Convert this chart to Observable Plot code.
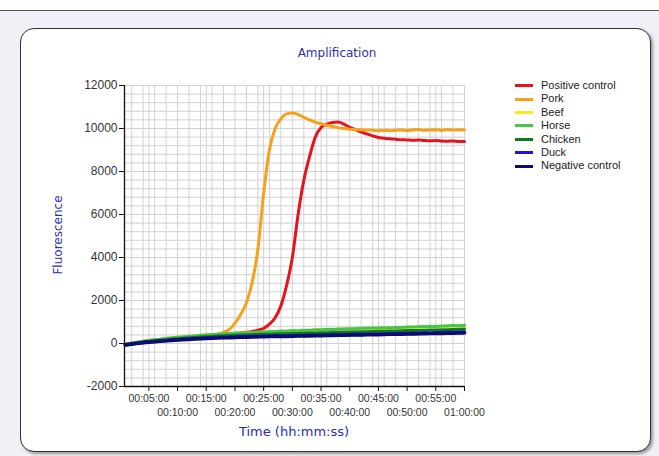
<!DOCTYPE html>
<html>
<head>
<meta charset="utf-8">
<script src="https://cdn.jsdelivr.net/npm/d3@7"></script>
<script src="https://cdn.jsdelivr.net/npm/@observablehq/plot@0.6"></script>
<style>
  html, body { margin: 0; padding: 0; }
  body { width: 659px; height: 456px; position: relative; overflow: hidden; background: #eff1f6; }
  #topband { position: absolute; left: 0; top: 0; width: 659px; height: 10px; background: #fff; border-bottom: 1px solid #555; }
  #card { position: absolute; left: 20px; top: 28px; width: 629px; height: 422px; background: #fff;
          border: 1.5px solid #333; border-radius: 14px; box-shadow: 2px 2px 3px #9a9a9a; }
  #chart { position: absolute; left: 0; top: 0; }
  .lbl { position: absolute; font-family: "DejaVu Sans", sans-serif; color: #2f2fa8; white-space: nowrap; }
  #title { left: 0; width: 674px; top: 46px; text-align: center; font-size: 12px; }
  #ylab { left: 58px; top: 235px; font-size: 12px; transform: translate(-50%, -50%) rotate(-90deg); }
  #xlab { left: 294px; top: 431px; font-size: 13px; transform: translate(-50%, -50%); color: #2a2ab8; }
  #legend { position: absolute; left: 515px; top: 79px; font-family: "Liberation Sans", Arial, sans-serif; font-size: 11px; color: #222; }
  #legend .row { height: 13.4px; line-height: 13.4px; display: flex; align-items: center; }
  #legend .sw { width: 18px; height: 3px; margin-right: 8px; }
</style>
</head>
<body>
<div id="topband"></div>
<div id="card"></div>
<div id="chart"></div>
<div class="lbl" id="title">Amplification</div>
<div class="lbl" id="ylab">Fluorescence</div>
<div class="lbl" id="xlab">Time (hh:mm:ss)</div>
<div id="legend"></div>
<script>
// time in minutes
const times = [0.9, 2, 3, 4, 5, 6, 7, 8, 9, 10,
  11, 12, 13, 14, 15, 16, 17, 18, 19, 20,
  21, 22, 23, 24, 25, 26, 27, 28, 29, 30,
  31, 32, 33, 34, 35, 36, 37, 38, 39, 40,
  41, 42, 43, 44, 45, 46, 47, 48, 49, 50,
  51, 52, 53, 54, 55, 56, 57, 58, 59, 60];

const seriesNames = ["Positive control", "Pork", "Beef", "Horse", "Chicken", "Duck", "Negative control"];
const seriesColors = ["#e5141c", "#f5a21a", "#f2ee1e", "#46c646", "#147814", "#1a1ad0", "#0c0c70"];

const positive = [-40, 10, 50, 90, 125, 160, 190, 220, 250, 275,
  300, 320, 345, 365, 385, 400, 420, 435, 450, 470,
  490, 520, 560, 620, 700, 900, 1200, 1750, 2700, 4000,
  6000, 7600, 8700, 9600, 10050, 10200, 10280, 10300, 10200, 10050,
  9950, 9830, 9750, 9660, 9580, 9550, 9520, 9500, 9480, 9470,
  9450, 9460, 9440, 9430, 9440, 9420, 9410, 9420, 9400, 9390];

const pork = [-30, 20, 60, 100, 140, 170, 200, 235, 260, 290,
  310, 335, 355, 380, 395, 415, 440, 520, 650, 950,
  1350, 1900, 2850, 4400, 7000, 9000, 10000, 10450, 10680, 10720,
  10650, 10520, 10400, 10300, 10220, 10150, 10090, 10040, 10000, 9970,
  9950, 9940, 9930, 9920, 9900, 9910, 9900, 9920, 9930, 9910,
  9930, 9950, 9920, 9930, 9940, 9920, 9950, 9930, 9940, 9930];

const beef = [-40, 10, 50, 90, 130, 160, 190, 225, 250, 280,
  300, 325, 345, 370, 385, 400, 420, 440, 450, 465,
  480, 490, 505, 515, 525, 540, 545, 560, 565, 580,
  585, 600, 605, 615, 625, 635, 640, 655, 660, 670,
  675, 685, 695, 700, 710, 715, 725, 730, 740, 745,
  755, 760, 770, 780, 785, 795, 800, 810, 820, 830];

const horse = [-30, 25, 55, 105, 135, 175, 195, 240, 255, 295,
  305, 340, 350, 385, 390, 420, 425, 455, 460, 485,
  490, 505, 515, 535, 535, 560, 555, 580, 575, 600,
  595, 620, 615, 635, 635, 655, 650, 675, 670, 690,
  685, 705, 705, 720, 720, 735, 735, 750, 750, 765,
  765, 780, 785, 800, 790, 815, 810, 835, 830, 850];

const chicken = [-50, 0, 35, 70, 100, 130, 155, 180, 205, 225,
  245, 265, 280, 300, 315, 330, 345, 355, 370, 380,
  390, 400, 410, 420, 425, 435, 440, 450, 455, 465,
  470, 480, 485, 490, 500, 505, 510, 520, 525, 530,
  540, 545, 550, 560, 565, 570, 580, 585, 590, 600,
  605, 610, 620, 625, 630, 640, 645, 650, 660, 670];

const duck = [-60, -20, 20, 45, 80, 95, 125, 140, 170, 180,
  205, 210, 235, 240, 265, 265, 285, 285, 305, 305,
  320, 320, 335, 330, 345, 340, 355, 350, 365, 360,
  375, 370, 385, 380, 395, 390, 405, 400, 415, 410,
  425, 420, 435, 430, 445, 440, 455, 450, 470, 460,
  480, 470, 495, 480, 505, 495, 520, 505, 535, 530];

const negative = [-70, -35, 5, 30, 60, 85, 105, 125, 145, 160,
  180, 190, 205, 220, 230, 245, 250, 265, 270, 280,
  290, 295, 300, 310, 310, 320, 325, 330, 330, 340,
  345, 350, 350, 360, 365, 370, 370, 380, 385, 390,
  390, 400, 405, 410, 410, 420, 425, 430, 430, 440,
  445, 450, 455, 460, 460, 470, 475, 480, 485, 490];

const seriesValues = [positive, pork, beef, horse, chicken, duck, negative];

const yTicks = [-2000, 0, 2000, 4000, 6000, 8000, 10000, 12000];
const yGrid = [-2000, -1600, -1200, -800, -400, 0, 400, 800, 1200, 1600, 2000, 2400, 2800, 3200, 3600, 4000,
  4400, 4800, 5200, 5600, 6000, 6400, 6800, 7200, 7600, 8000, 8400, 8800, 9200, 9600, 10000,
  10400, 10800, 11200, 11600, 12000];
const xTicks = [5, 10, 15, 20, 25, 30, 35, 40, 45, 50, 55, 60];
const xTicksUpper = [5, 15, 25, 35, 45, 55];
const xTicksLower = [10, 20, 30, 40, 50, 60];
const xGrid = [2, 4, 5, 6, 8, 10, 12, 14, 15, 16, 18, 20, 22, 24, 25, 26, 28, 30, 32, 34, 35, 36, 38, 40,
  42, 44, 45, 46, 48, 50, 52, 54, 55, 56, 58, 60];
const xTickLabels = {5: "00:05:00", 10: "00:10:00", 15: "00:15:00", 20: "00:20:00", 25: "00:25:00",
  30: "00:30:00", 35: "00:35:00", 40: "00:40:00", 45: "00:45:00", 50: "00:50:00", 55: "00:55:00", 60: "01:00:00"};

const xStart = 0.75;

const lineMarks = seriesNames.map((name, k) => {
  const rows = times.map((t, i) => ({t, v: seriesValues[k][i], s: name}));
  const steep = (name === "Positive control" || name === "Pork");
  const w = (name === "Duck" || name === "Negative control") ? 3.5 : 3;
  return Plot.line(rows, {x: "t", y: "v", stroke: seriesColors[k], strokeWidth: w, strokeLinejoin: "round",
    curve: steep ? "monotone-x" : "linear"});
});

const chart = Plot.plot({
  width: 659, height: 456,
  marginLeft: 124, marginRight: 195, marginTop: 85, marginBottom: 70,
  style: {background: "transparent", fontFamily: "'Liberation Sans', Arial, sans-serif", color: "#333", overflow: "visible"},
  x: {domain: [xStart, 60], axis: null},
  y: {domain: [-2000, 12000], axis: null},
  marks: [
    Plot.gridX(xGrid, {stroke: "#d2d2d2", strokeOpacity: 1}),
    Plot.gridY(yGrid, {stroke: "#d2d2d2", strokeOpacity: 1}),
    ...lineMarks,
    Plot.ruleX([xStart], {stroke: "#111", strokeWidth: 1.3}),
    Plot.ruleY([-2000], {stroke: "#111", strokeWidth: 1.3}),
    Plot.axisY(yTicks, {label: null, tickSize: 5, tickPadding: 2, fontSize: 12, stroke: "#111", tickFormat: d => String(d)}),
    Plot.axisX(xTicks, {label: null, tickSize: 5, stroke: "#111", tickFormat: () => ""}),
    Plot.axisX(xTicksUpper, {label: null, tickSize: 0, tickPadding: 8, fontSize: 10.5, tickFormat: d => xTickLabels[d]}),
    Plot.axisX(xTicksLower, {label: null, tickSize: 0, tickPadding: 22, fontSize: 10.5, tickFormat: d => xTickLabels[d]})
  ]
});
document.getElementById("chart").appendChild(chart);

const legend = document.getElementById("legend");
seriesNames.forEach((name, k) => {
  const row = document.createElement("div");
  row.className = "row";
  const sw = document.createElement("span");
  sw.className = "sw";
  sw.style.background = seriesColors[k];
  const tx = document.createElement("span");
  tx.textContent = name;
  row.appendChild(sw);
  row.appendChild(tx);
  legend.appendChild(row);
});
</script>
</body>
</html>
